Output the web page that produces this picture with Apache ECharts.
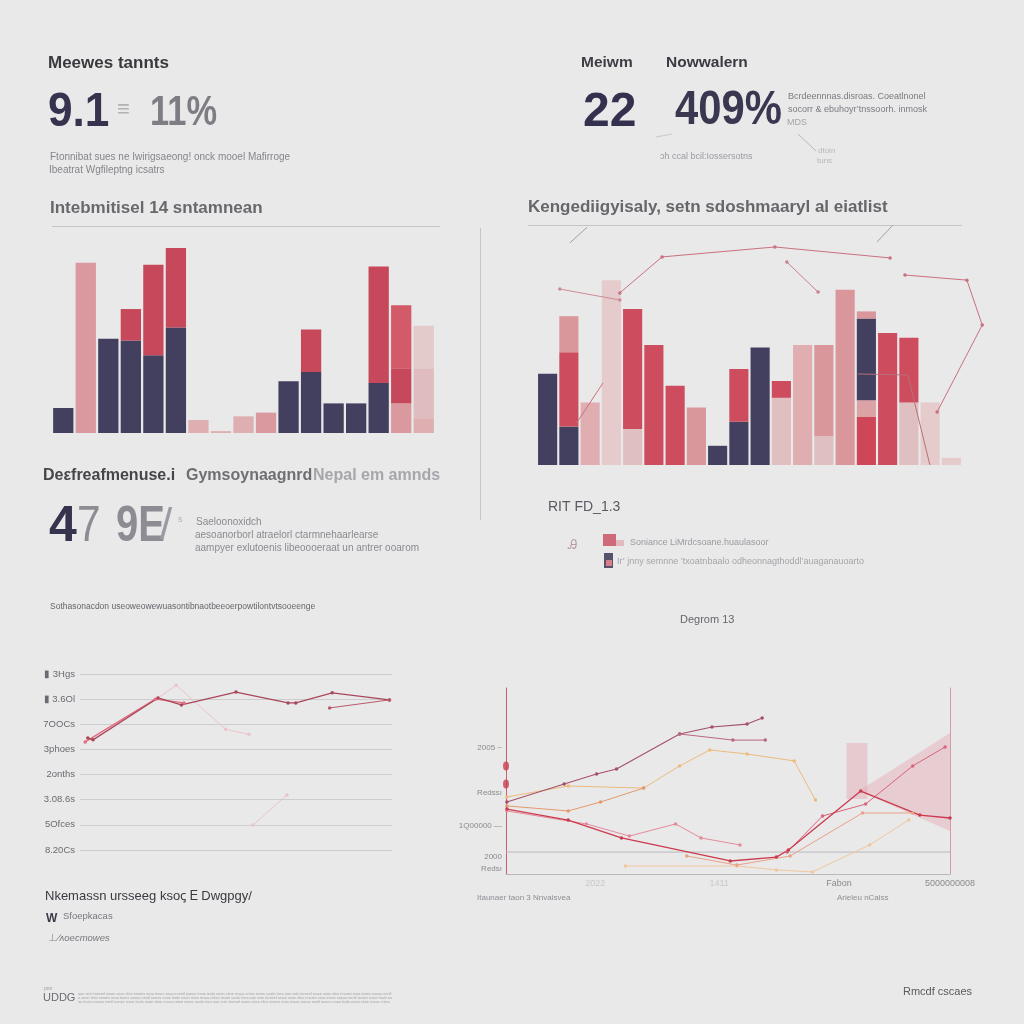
<!DOCTYPE html>
<html><head><meta charset="utf-8">
<style>html,body{margin:0;padding:0;background:#e9e9ea}#c{width:1024px;height:1024px}</style>
<script src="https://cdn.jsdelivr.net/npm/echarts@6.0.0/dist/echarts.min.js"></script>
</head><body><div id="c"></div>
<script>
// ---------- Top-left stacked bars ----------
const tlCategories = ['a1','a2','a3','a4','a5','a6','a7','a8','a9','a10','a11','a12','a13','a14','a15','a16','a17'];
const tlPink      = [0,92,0,0,0,0,0,0,0,11,0,0,0,0,0,16,0];
const tlNavy      = [13.5,0,51,50,42,57,0,0,0,0,28,33,16,16,27,0,0];
const tlRed       = [0,0,0,17,49,43,0,0,0,0,0,23,0,0,63,19,0];
const tlRedLight  = [0,0,0,0,0,0,0,0,0,0,0,0,0,0,0,34,0];
const tlBlush     = [0,0,0,0,0,0,7,1,9,0,0,0,0,0,0,0,8];
const tlBlushMid  = [0,0,0,0,0,0,0,0,0,0,0,0,0,0,0,0,27];
const tlBlushTop  = [0,0,0,0,0,0,0,0,0,0,0,0,0,0,0,0,23];

// ---------- Top-right stacked bars ----------
const trCategories = ['b1','b2','b3','b4','b5','b6','b7','b8','b9','b10','b11','b12','b13','b14','b15','b16','b17','b18','b19','b20'];
const trLowBlush = [0,0,0,0,15,0,0,0,0,0,0,28,0,12,0,0,0,26,0,0];
const trLowRed   = [0,0,0,0,0,0,0,0,0,0,0,0,0,0,0,20,0,0,0,0];
const trLowPink  = [0,0,0,0,0,0,0,0,0,0,0,0,0,0,0,7,0,0,0,0];
const trNavy     = [38,16,0,0,0,0,0,0,8,18,49,0,0,0,0,34,0,0,0,0];
const trRed      = [0,31,0,0,50,50,33,0,0,22,0,7,0,0,0,0,55,27,0,0];
const trPink     = [0,15,0,0,0,0,0,24,0,0,0,0,0,38,73,3,0,0,0,0];
const trBlush    = [0,0,26,0,0,0,0,0,0,0,0,0,50,0,0,0,0,0,0,0];
const trFaint    = [0,0,0,77,0,0,0,0,0,0,0,0,0,0,0,0,0,0,26,3];
// thin annotation lines over the top-right chart [x, y]
const trLineA = [[8.3,69.0],[20.8,64.7]];
const trLineB = [[20.8,67.5],[29.6,81.6],[53.1,85.5],[77.1,81.2]];
const trLineH = [[11.8,16.5],[17.3,32.2]];
const trLineC = [[80.2,74.5],[93.1,72.5],[96.3,54.9],[86.9,20.8]];
const trLineD = [[55.6,79.6],[62.1,67.8]];
const trLineE = [[70.4,35.7],[80.8,35.3],[85.4,0]];
const trLineF = [[10.4,87.1],[14.0,93.3]];
const trLineG = [[74.4,87.5],[77.7,94.1]];

// ---------- Bottom-left line chart ----------
const blTickLabels = ['8.20Cs','5Ofces','3.08.6s','2onths','3phoes','7OOCs','\u25AE 3.6Ol','\u25AE 3Hgs'];
const blMain  = [[0.3,4.45],[0.5,4.38],[3.0,6.05],[3.9,5.77],[6.0,6.28],[8.0,5.85],[8.3,5.85],[9.7,6.25],[11.9,5.97]];
const blPink  = [[0.2,4.3],[2.9,6.0],[4.0,5.85]];
const blFaint = [[3.0,6.05],[3.7,6.55],[5.6,4.8],[6.5,4.6]];
const blSide  = [[9.6,5.65],[11.9,5.97]];
const blLow   = [[6.65,0.99],[7.96,2.19]];

// ---------- Bottom-right multi-line chart ----------
const brYTickValues = [67.7,43.5,25.8,9.1,2.7];
const brYTickLabels = ['2005 ~','Redssı','1Q00000 \u2014','2000','Redsı'];
const brXTickValues = [20.1,48,75,100];
const brXTickLabels = ['2022','1411','Fabon','5000000008'];
const brL1  = [[0.2,38.7],[13.1,48.4],[20.4,53.8],[24.9,56.5],[39.1,75.3],[46.4,79.0],[54.3,80.6],[57.7,83.9]];
const brL1b = [[39.1,75.3],[51.1,72.0],[58.4,72.0]];
const brL2  = [[0.2,41.4],[14.0,47.3],[31.0,46.2],[39.1,58.1],[45.9,66.7],[54.3,64.5],[64.9,60.8],[69.7,39.8]];
const brL3  = [[0.2,36.6],[14.0,33.9],[21.3,38.7],[31.0,46.2]];
const brL4  = [[0.2,34.9],[14.0,29.0],[26.0,19.4],[50.5,7.0],[60.9,9.1],[63.6,12.9],[79.9,44.6],[93.2,31.7],[100,30.1]];
const brL5  = [[0.2,33.9],[18.1,26.9],[27.8,20.4],[38.2,26.9],[43.9,19.4],[52.7,15.6]];
const brL6  = [[63.3,11.8],[71.3,31.2],[81.0,37.6],[91.6,58.1],[98.9,68.3]];
const brL7  = [[26.9,4.3],[52.0,4.3],[60.9,2.2],[69.0,1.1],[81.9,15.6],[90.7,29.0]];
const brL8  = [[40.7,9.7],[52.0,4.8],[64.0,9.7],[80.3,32.8],[91.6,32.8]];
const brAxisDots = [[0,58],[0,48.4]];
const brShadeRect = [[76.7,70.4],[81.4,70.4],[81.4,40.3],[76.7,40.3]];
const brShadeTri  = [[79.4,44.6],[100,75.8],[100,23.1]];
const brGuide = 11.8;

// ---------- helpers ----------
const FF = '"Liberation Sans", Arial, sans-serif';
function T(x, y, text, size, color, weight, sx, italic) {
  return {type:'text', x:x, y:y, silent:true, scaleX:sx||1,
    style:{text:text, font:(italic?'italic ':'')+(weight||'normal')+' '+size+'px '+FF, fill:color, verticalAlign:'middle'}};
}
function L(x1,y1,x2,y2,color,w){
  return {type:'line', silent:true, shape:{x1:x1,y1:y1,x2:x2,y2:y2}, style:{stroke:color, lineWidth:w||1}};
}
function R(x,y,w,h,color){
  return {type:'rect', silent:true, shape:{x:x,y:y,width:w,height:h}, style:{fill:color}};
}
function bar(name, data, color, xi, stack){
  return {type:'bar', name:name, data:data, xAxisIndex:xi, yAxisIndex:xi, stack:stack,
    itemStyle:{color:color}, barCategoryGap:'10%', silent:true};
}
function line(data, color, xi, yi, w, sym, op){
  return {type:'line', data:data, xAxisIndex:xi, yAxisIndex:yi, silent:true, clip:false,
    lineStyle:{color:color, width:w||1, opacity:op==null?1:op},
    symbol:sym?'circle':'none', symbolSize:3.5, itemStyle:{color:color, opacity:op==null?1:op}, animation:false};
}
function poly(points, fill, xi, yi){
  return {type:'custom', xAxisIndex:xi, yAxisIndex:yi, data:[[0,0]], silent:true,
    renderItem:function(params, api){
      return {type:'polygon', shape:{points:points.map(function(p){return api.coord(p);})}, style:{fill:fill}};
    }};
}
const hiddenCat = (gi, cats) => ({type:'category', gridIndex:gi, data:cats, show:false});
const hiddenVal = (gi, min, max) => ({type:'value', gridIndex:gi, min:min, max:max, show:false});

const tinyLine = 'aoe sntn tornsel waoe ueon sleo nnoms eroa tnees soauo nentl oanes rrsoe tnalo eaon sitoe rnsaa cnteo nsore uaslo tnes ';
const tiny = tinyLine.repeat(4);

const option = {
  backgroundColor:'#e9e9ea',
  animation:false,
  grid:[
    {left:52, top:248, width:383, height:185},
    {left:537, top:225, width:425, height:240},
    {left:520, top:210, width:480, height:255},
    {left:80, top:674, width:312, height:176},
    {left:506, top:688, width:444, height:186}
  ],
  xAxis:[
    hiddenCat(0, tlCategories),
    hiddenCat(1, trCategories),
    hiddenVal(2, 0, 100),
    {type:'value', gridIndex:3, min:0, max:12, axisLine:{show:false}, axisTick:{show:false},
      axisLabel:{show:false}, splitLine:{show:false}},
    {type:'value', gridIndex:4, min:0, max:100, splitLine:{show:false},
      axisLine:{show:true, lineStyle:{color:'#b9b9bc', width:1}}, axisTick:{show:false},
      axisLabel:{customValues:brXTickValues, margin:5,
        formatter:function(v){const i=brXTickValues.indexOf(v); const s=brXTickLabels[i]||''; return i<2?'{f|'+s+'}':'{d|'+s+'}';},
        rich:{f:{color:'#c9c9cc', fontSize:9, fontFamily:FF}, d:{color:'#8a8a8e', fontSize:9, fontFamily:FF}}}}
  ],
  yAxis:[
    hiddenVal(0, 0, 100),
    hiddenVal(1, 0, 100),
    hiddenVal(2, 0, 100),
    {type:'value', gridIndex:3, min:0, max:7, interval:1, axisLine:{show:false}, axisTick:{show:false},
      splitLine:{lineStyle:{color:'#cdcdd0', width:1}},
      axisLabel:{margin:5, color:'#6a6a70', fontSize:9.5, fontFamily:FF,
        formatter:function(v){return blTickLabels[Math.round(v)]||'';}}},
    {type:'value', gridIndex:4, min:0, max:100, splitLine:{show:false}, axisTick:{show:false},
      axisLine:{show:true, lineStyle:{color:'#c9606e', width:1}},
      axisLabel:{customValues:brYTickValues, margin:4, color:'#8a8a8e', fontSize:8, fontFamily:FF,
        formatter:function(v){const i=brYTickValues.indexOf(v); return brYTickLabels[i]||'';}}},
    {type:'value', gridIndex:4, min:0, max:100, position:'right', splitLine:{show:false}, axisTick:{show:false},
      axisLabel:{show:false}, axisLine:{show:true, lineStyle:{color:'#d49aa5', width:1}}}
  ],
  series:[
    // top-left
    bar('tlPink', tlPink, '#d9999e', 0, 'tl'),
    bar('tlNavy', tlNavy, '#433f5f', 0, 'tl'),
    bar('tlRed', tlRed, '#c7485a', 0, 'tl'),
    bar('tlRedLight', tlRedLight, '#d35a69', 0, 'tl'),
    bar('tlBlush', tlBlush, '#deaeb0', 0, 'tl'),
    bar('tlBlushMid', tlBlushMid, '#dfbcbe', 0, 'tl'),
    bar('tlBlushTop', tlBlushTop, '#e3cacb', 0, 'tl'),
    // top-right
    bar('trLowBlush', trLowBlush, '#e0bfc1', 1, 'tr'),
    bar('trLowRed', trLowRed, '#cf4658', 1, 'tr'),
    bar('trLowPink', trLowPink, '#dca3a7', 1, 'tr'),
    bar('trNavy', trNavy, '#433f5f', 1, 'tr'),
    bar('trRed', trRed, '#cd4c5d', 1, 'tr'),
    bar('trPink', trPink, '#d9969b', 1, 'tr'),
    bar('trBlush', trBlush, '#e0aeb1', 1, 'tr'),
    bar('trFaint', trFaint, '#e5cbcc', 1, 'tr'),
    line(trLineA, '#cf8a95', 2, 2, 1, true),
    line(trLineB, '#c9707f', 2, 2, 1, true),
    line(trLineH, '#c9707f', 2, 2, 1, false),
    line(trLineC, '#c9707f', 2, 2, 1, true),
    line(trLineD, '#c9808c', 2, 2, 1, true),
    line(trLineE, '#b8707c', 2, 2, 1, false),
    line(trLineF, '#a0a0a8', 2, 2, 1, false),
    line(trLineG, '#a0a0a8', 2, 2, 1, false),
    // bottom-left
    line(blFaint, '#edc3c9', 3, 3, 1, true),
    line(blPink, '#e46c7e', 3, 3, 1.4, true),
    line(blMain, '#a8475a', 3, 3, 1.2, true),
    line(blSide, '#b95a6b', 3, 3, 1, true),
    line(blLow, '#e7c4c9', 3, 3, 1, true),
    // bottom-right
    poly(brShadeRect, 'rgba(226,165,175,0.45)', 4, 4),
    poly(brShadeTri, 'rgba(228,160,172,0.38)', 4, 4),
    {type:'line', data:[[0,brGuide],[100,brGuide]], xAxisIndex:4, yAxisIndex:4, symbol:'none', silent:true,
      lineStyle:{color:'#b8b8bc', width:1}},
    line(brL7, '#f1c79c', 4, 4, 1, true),
    line(brL8, '#e9a185', 4, 4, 1, true),
    line(brL2, '#ecbb7c', 4, 4, 1, true),
    line(brL3, '#e39a6a', 4, 4, 1, true),
    line(brL5, '#e48b99', 4, 4, 1, true),
    line(brL6, '#d9637a', 4, 4, 1, true),
    line(brL1, '#a55068', 4, 4, 1.1, true),
    line(brL1b, '#b8687c', 4, 4, 1, true),
    line(brL4, '#cc3a4e', 4, 4, 1.3, true),
    {type:'scatter', data:brAxisDots, xAxisIndex:4, yAxisIndex:4, symbolSize:[6,9], silent:true,
      itemStyle:{color:'#c8404f'}}
  ],
  graphic:[
    // top-left header
    T(48, 63, 'Meewes tannts', 17, '#3a3a3e', 'bold'),
    T(48, 113, '9.1', 48, '#35334e', 'bold', 0.92),
    T(117, 110, '\u2261', 22, '#b2b2b6', 'normal'),
    T(150, 113, '11%', 42, '#7e7d84', 'bold', 0.82),
    T(50, 157, 'Ftonnibat sues ne Iwirigsaeong! onck mooel Mafirroge', 10, '#85858a'),
    T(49, 170, 'Ibeatrat Wgfileptng icsatrs', 10, '#85858a'),
    T(50, 208, 'Intebmitisel 14 sntamnean', 17, '#68686d', 'bold'),
    L(52, 226.5, 440, 226.5, '#c5c5c8', 1),
    L(480.5, 228, 480.5, 520, '#c5c5c8', 1),
    // top-right header
    T(581, 63, 'Meiwm', 15.5, '#3e3e44', 'bold'),
    T(666, 63, 'Nowwalern', 15.5, '#3a3a40', 'bold'),
    T(583, 113, '22', 48, '#33314d', 'bold'),
    T(675, 111, '409%', 48, '#3a3850', 'bold', 0.87),
    T(788, 97, 'Bcrdeennnas.disroas. Coeatlnonel', 9, '#7a7a80'),
    T(788, 110, 'socorr & ebuhoyr\u2019tnssoorh. inmosk', 9, '#7a7a80'),
    T(787, 123, 'MDS', 9, '#a5a5aa'),
    L(656, 137, 672, 134, '#c8c8cc', 1),
    L(798, 134, 816, 151, '#b8b8bc', 1),
    T(818, 151, 'dtoin', 8, '#b8b8bc'),
    T(817, 161, 'tuns', 8, '#b8b8bc'),
    T(660, 157, 'ɔh ccal bcil:Iossersotns', 9, '#9a9aa0'),
    T(528, 207, 'Kengediigyisaly, setn sdoshmaaryl al eiatlist', 17, '#66666b', 'bold'),
    L(528, 225.5, 962, 225.5, '#c5c5c8', 1),
    // middle left
    T(43, 476, 'Deεfreafmenuse.i', 16, '#45454a', 'bold'),
    T(186, 476, 'Gymsoynaagnrd', 16, '#6e6e74', 'bold'),
    T(313, 476, 'Nepal em amnds', 16, '#a6a6ab', 'bold'),
    T(49, 527, '4', 50, '#35334e', 'bold'),
    T(77, 527, '7', 50, '#8d8c93', 'normal', 0.85),
    T(116, 527, '9E', 50, '#8d8c93', 'bold', 0.8),
    T(160, 527, '/', 44, '#9c9ba2', 'normal'),
    T(178, 520, 's', 9, '#b0b0b5'),
    T(196, 522, 'Saeloonoxidch', 10, '#8a8a90'),
    T(195, 535, 'aesoanorborl atraelorl ctarmnehaarlearse', 10, '#8a8a90'),
    T(195, 548, 'aampyer exlutoenis libeoooeraat un antrer ooarom', 10, '#8a8a90'),
    T(50, 607, 'Sothasonacdon useoweowewuasontibnaotbeeoerpowtilontvtsooeenge', 8.5, '#66666b'),
    // middle right
    T(548, 507, 'RIT FD_1.3', 14, '#5a5a60'),
    T(568, 545, 'Ꭿ', 13, '#b89ca2'),
    R(603, 534, 13, 12, '#cf6a78'),
    R(616, 540, 8, 6, '#e2b9bf'),
    T(630, 543, 'Soniance LiMrdcsoane.huaulasoor', 9, '#9a9aa0'),
    R(604, 553, 9, 15, '#57516c'),
    R(606, 560, 6, 6, '#d97e8b'),
    T(617, 562, 'Ir\u2019 jnny semnne \u2019txoatnbaalo odheonnagthoddl\u2019auaganauoarto', 9, '#a5a5aa'),
    T(680, 620, 'Degrom 13', 11, '#66666b'),
    // bottom-right captions
    T(477, 898, 'Itaunaer taon 3 Nnvaisvea', 8, '#8e8e94'),
    T(837, 898, 'Arieleu nCalss', 8, '#8e8e94'),
    // bottom-left legend
    T(45, 896, 'Nkemassn ursseeg ksoꞔ Ꭼ Dwgpgy/', 13, '#3a3a40'),
    T(46, 919, 'W', 12, '#3a3a48', 'bold'),
    T(63, 916, 'Sfoepkacas', 9.5, '#77777d'),
    T(48, 938, '\u22A5', 10, '#8a8a90'),
    T(58, 938, '\u2215\u028Coecmowes', 9.5, '#77777d', 'normal', 1, true),
    // footer
    T(44, 989, 'pnn', 5, '#9a9aa0'),
    T(43, 998, 'UDDG', 11, '#6a6a70'),
    T(78, 994, tiny.slice(0, 180), 3.8, '#a4a4a9'),
    T(78, 998, tiny.slice(20, 200), 3.8, '#a4a4a9'),
    T(78, 1002, tiny.slice(40, 220), 3.8, '#a4a4a9'),
    T(903, 992, 'Rmcdf cscaes', 11, '#5a5a60')
  ]
};
echarts.init(document.getElementById('c'), null, {renderer:'canvas'}).setOption(option);
</script></body></html>
